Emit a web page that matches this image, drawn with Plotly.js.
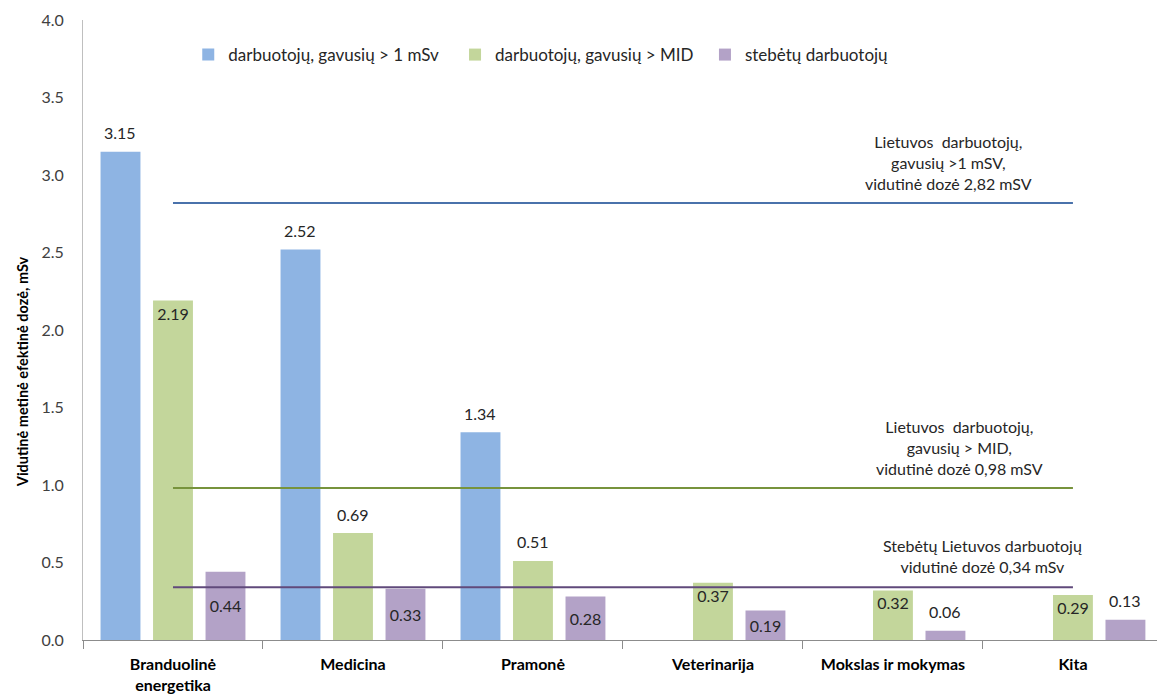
<!DOCTYPE html>
<html>
<head>
<meta charset="utf-8">
<script src="https://cdn.plot.ly/plotly-3.0.1.min.js"></script>
<style>
  html, body { margin: 0; padding: 0; background: #fff; }
  #chart { width: 1157px; height: 697px; }
</style>
</head>
<body>
<div id="chart"></div>
<script>
// Categories (sectors)
const categories = ['Branduolinė<br>energetika', 'Medicina', 'Pramonė', 'Veterinarija', 'Mokslas ir mokymas', 'Kita'];

// Average annual effective dose, mSv
const over1mSv = [3.15, 2.52, 1.34, null, null, null];
const overMID = [2.19, 0.69, 0.51, 0.37, 0.32, 0.29];
const monitored = [0.44, 0.33, 0.28, 0.19, 0.06, 0.13];

// Where each value label sits: inside the bar or above it
const over1Pos = ['outside', 'outside', 'outside', 'none', 'none', 'none'];
const midPos = ['inside', 'outside', 'outside', 'inside', 'inside', 'inside'];
const monPos = ['inside', 'inside', 'inside', 'inside', 'outside', 'outside'];

// National average reference levels
const refLevels = [2.82, 0.98, 0.34];
const refTexts = [
  'Lietuvos  darbuotojų,<br>gavusių >1 mSV,<br>vidutinė dozė 2,82 mSV',
  'Lietuvos  darbuotojų,<br>gavusių > MID,<br>vidutinė dozė 0,98 mSV',
  'Stebėtų Lietuvos darbuotojų<br>vidutinė dozė 0,34 mSv'
];
const refColors = ['#4a72ab', '#77933c', '#604a7b'];
const refTextX = [4.31, 4.37, 4.5];
const refShift = [8, 8, 9];

const seriesNames = ['darbuotojų, gavusių > 1 mSv', 'darbuotojų, gavusių > MID', 'stebėtų darbuotojų'];
const barColors = ['#8eb4e3', '#c3d69b', '#b3a2c7'];

const FONT = 'Lato, "Open Sans", sans-serif';
const TEXT = '#262626';
const fmt = v => (v == null ? '' : v.toFixed(2));

const series = [over1mSv, overMID, monitored];
const positions = [over1Pos, midPos, monPos];
const anchors = ['end', 'end', 'middle'];
const legendIds = ['legend', 'legend2', 'legend3'];
const groupOffset = [-52.5, 0, 52.5];

// Bars; inside labels are bar text, labels above the bars are annotations
const traces = series.map((vals, s) => ({
  type: 'bar', name: seriesNames[s], x: categories, y: vals,
  legend: legendIds[s],
  marker: { color: barColors[s] },
  text: vals.map((v, i) => (positions[s][i] === 'inside' ? fmt(v) : '')),
  textposition: 'inside', insidetextanchor: anchors[s],
  textfont: { size: 16, color: TEXT, family: FONT }
}));

const valueNotes = [];
series.forEach((vals, s) => {
  vals.forEach((v, i) => {
    if (v != null && positions[s][i] === 'outside') {
      valueNotes.push({
        xref: 'x', yref: 'y', x: categories[i], y: v,
        xshift: groupOffset[s], yshift: 19, yanchor: 'middle', xanchor: 'center',
        text: fmt(v), showarrow: false,
        font: { size: 16, color: TEXT, family: FONT }
      });
    }
  });
});

const shapes = refLevels.map((v, i) => ({
  type: 'line', xref: 'x', yref: 'y', x0: 0, x1: 5, y0: v, y1: v,
  line: { color: refColors[i], width: 2 }
}));

const refNotes = refLevels.map((v, i) => ({
  xref: 'x', yref: 'y', x: refTextX[i], y: v, yanchor: 'bottom', xanchor: 'center',
  yshift: refShift[i], text: refTexts[i], showarrow: false, align: 'center',
  font: { size: 16, color: TEXT, family: FONT }
}));

// Rotated y-axis caption
const yCaption = {
  xref: 'paper', yref: 'paper', x: 0, y: 0.432, xshift: -61,
  xanchor: 'center', yanchor: 'middle', textangle: -90, showarrow: false,
  text: 'Vidutinė metinė efektinė dozė, mSv',
  font: { size: 14.5, color: '#000000', family: FONT, weight: 'bold' }
};

const legendBase = (x) => ({
  orientation: 'h', x: x, y: 0.9435, xanchor: 'left', yanchor: 'middle',
  font: { size: 17, color: TEXT, family: FONT },
  itemwidth: 30, bgcolor: 'rgba(0,0,0,0)'
});

const layout = {
  width: 1157, height: 697,
  margin: { l: 83, r: 0, t: 20, b: 57 },
  paper_bgcolor: '#ffffff', plot_bgcolor: '#ffffff',
  barmode: 'group', bargap: 0.125, bargroupgap: 0.24,
  font: { family: FONT, color: TEXT },
  uniformtext: { mode: 'show', minsize: 16 },
  showlegend: true,
  legend: legendBase(0.098),
  legend2: legendBase(0.3464),
  legend3: legendBase(0.5791),
  xaxis: {
    type: 'category', range: [-0.5, 5.467],
    showline: true, linecolor: '#8c8c8c', linewidth: 1,
    ticks: 'outside', tickson: 'boundaries', ticklen: 8, tickcolor: '#8c8c8c',
    ticklabelstandoff: 10,
    tickfont: { size: 16, color: '#000000', family: FONT, weight: 'bold' },
    showgrid: false, zeroline: false, fixedrange: true
  },
  yaxis: {
    range: [0, 4], dtick: 0.5, tickformat: '.1f',
    showline: true, linecolor: '#bfbfbf', linewidth: 1,
    ticks: '', ticklabelstandoff: 15,
    tickfont: { size: 16, color: '#404040', family: FONT },
    showgrid: false, zeroline: false, fixedrange: true
  },
  shapes: shapes,
  annotations: refNotes.concat(valueNotes, [yCaption])
};

Plotly.newPlot('chart', traces, layout, { displayModeBar: false, staticPlot: true });
</script>
</body>
</html>
